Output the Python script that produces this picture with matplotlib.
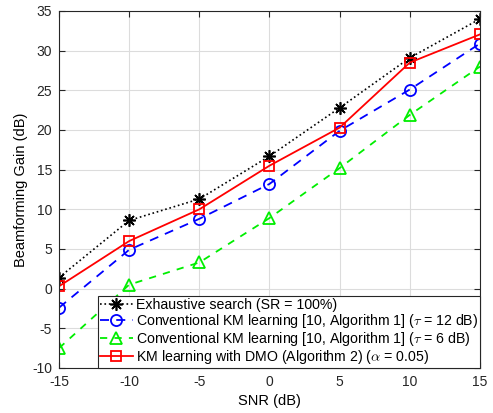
import numpy as np
import matplotlib
matplotlib.use("Agg")
import matplotlib.pyplot as plt

plt.rcParams['font.family'] = ['Liberation Sans', 'DejaVu Sans']
plt.rcParams['mathtext.fontset'] = 'cm'
plt.rcParams['axes.unicode_minus'] = False

snr = [-15, -10, -5, 0, 5, 10, 15]
gain_exhaustive = [1.4, 8.6, 11.3, 16.7, 22.8, 29.1, 34.0]
gain_km_12 = [-2.4, 4.9, 8.8, 13.2, 19.9, 25.1, 30.9]
gain_km_6 = [-7.5, 0.5, 3.3, 8.9, 15.2, 21.9, 28.0]
gain_dmo = [0.3, 6.0, 10.0, 15.5, 20.3, 28.5, 32.05]

labels = [
    'Exhaustive search (SR = 100%)',
    r'Conventional KM learning [10, Algorithm 1] ($\tau$ = 12 dB)',
    r'Conventional KM learning [10, Algorithm 1] ($\tau$ = 6 dB)',
    r'KM learning with DMO (Algorithm 2) ($\alpha$ = 0.05)',
]

fig = plt.figure(figsize=(4.93, 4.13), dpi=100)
ax = fig.add_axes([0.1197, 0.109, 0.8539, 0.8644])

ax.plot(snr, gain_exhaustive, color='black', linestyle=':', linewidth=1.2,
        marker=(8, 2, 0), markersize=9, markeredgewidth=1.2, label=labels[0])
ax.plot(snr, gain_km_12, color='blue', linestyle=(0, (5, 4)), linewidth=1.3,
        marker='o', markersize=8, markerfacecolor='none', markeredgewidth=1.3,
        label=labels[1])
ax.plot(snr, gain_km_6, color='#00ee00', linestyle=(0, (4, 4)), linewidth=1.3,
        marker='^', markersize=9, markerfacecolor='none', markeredgewidth=1.3,
        label=labels[2])
ax.plot(snr, gain_dmo, color='red', linestyle='-', linewidth=1.3,
        marker='s', markersize=7, markerfacecolor='none', markeredgewidth=1.3,
        label=labels[3])

ax.set_xlim(-15, 15)
ax.set_ylim(-10, 35)
ax.set_xticks(np.arange(-15, 16, 5))
ax.set_yticks(np.arange(-10, 36, 5))
ax.grid(True, color='#dcdcdc', linewidth=0.8)
ax.set_axisbelow(True)
ax.tick_params(direction='in', top=True, right=True, labelsize=10,
               length=4, color='#262626', labelcolor='#262626', pad=5)
for s in ax.spines.values():
    s.set_color('#262626')
    s.set_linewidth(0.8)

ax.set_xlabel('SNR (dB)', fontsize=10.5, labelpad=4)
ax.set_ylabel('Beamforming Gain (dB)', fontsize=10.5, labelpad=3)

leg = ax.legend(loc='lower right', fontsize=10.2, frameon=True, fancybox=False,
                borderaxespad=0, handlelength=2.3, handletextpad=0.2,
                labelspacing=0.0, borderpad=0.15)
leg.get_frame().set_edgecolor('#262626')
leg.get_frame().set_linewidth(0.8)
leg.get_frame().set_alpha(1)

fig.savefig('out.png', dpi=100)
